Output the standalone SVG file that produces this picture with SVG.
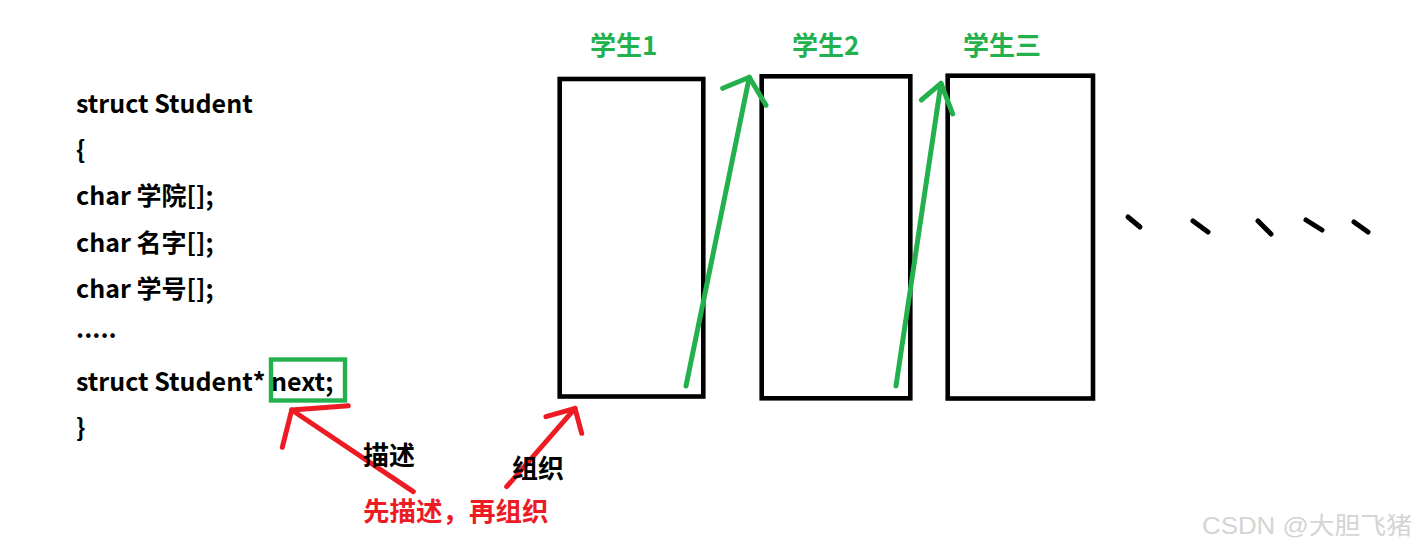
<svg xmlns="http://www.w3.org/2000/svg" width="1416" height="552" viewBox="0 0 1416 552">
<style>
.code{font-family:"Noto Sans CJK SC","Noto Sans",sans-serif;font-weight:bold;font-size:25px;fill:#000}
.lbl{font-family:"Noto Sans CJK SC",sans-serif;font-weight:bold;font-size:26px;fill:#22B14C}
.note{font-family:"Noto Sans CJK SC",sans-serif;font-weight:bold;font-size:26px;fill:#000}
.red{font-family:"Noto Sans CJK SC",sans-serif;font-weight:bold;font-size:26.5px;fill:#ED1C24}
.box{fill:none;stroke:#000;stroke-width:4.6}
.g{fill:none;stroke:#22B14C;stroke-width:5;stroke-linecap:round;stroke-linejoin:round}
.r{fill:none;stroke:#ED1C24;stroke-width:5;stroke-linecap:round;stroke-linejoin:round}
.dash{stroke:#000;stroke-width:5;stroke-linecap:round}
.wm{font-family:"Liberation Sans","Noto Sans CJK SC",sans-serif;font-size:24px;fill:#d4d4d4}
</style>
<rect width="1416" height="552" fill="#fff"/>
<g id="code">
<text class="code" x="76" y="113">struct Student</text>
<text class="code" x="76" y="159">{</text>
<text class="code" x="76" y="205">char 学院[];</text>
<text class="code" x="76" y="252">char 名字[];</text>
<text class="code" x="76" y="298">char 学号[];</text>
<text class="code" x="76" y="338">.....</text>
<text class="code" x="76" y="391">struct Student* next;</text>
<text class="code" x="76" y="437">}</text>
</g>
<g id="next-highlight">
<rect x="271" y="359.5" width="74" height="41" fill="none" stroke="#22B14C" stroke-width="4.4"/>
</g>
<g id="student1">
<rect class="box" x="559.7" y="79" width="143.6" height="317.5"/>
<text class="lbl" x="590" y="55">学生1</text>
</g>
<g id="student2">
<rect class="box" x="761.7" y="76.3" width="148.6" height="322"/>
<text class="lbl" x="792" y="55">学生2</text>
</g>
<g id="student3">
<rect class="box" x="947.7" y="75.7" width="145.3" height="322.8"/>
<text class="lbl" x="963" y="55">学生三</text>
</g>
<g id="ellipsis">
<line class="dash" x1="1128" y1="217" x2="1140" y2="227"/>
<line class="dash" x1="1193" y1="221" x2="1208" y2="232"/>
<line class="dash" x1="1258" y1="221" x2="1271" y2="234"/>
<line class="dash" x1="1306" y1="220" x2="1322" y2="230"/>
<line class="dash" x1="1354" y1="222" x2="1368" y2="232"/>
</g>
<g id="connectors">
<path class="g" d="M686 386 L749.3 77.3"/>
<path class="g" d="M722.7 88.3 L749.3 77.3 L766 105.3"/>
<path class="g" d="M896 386 L941 83.3"/>
<path class="g" d="M921.3 100 L941 83.3 L952.7 114"/>
<path class="r" d="M413.3 491.7 L291.7 410"/>
<path class="r" d="M348.3 405.7 L291.7 410 L282.3 447.3"/>
<path class="r" d="M506.7 486.7 L575 408.3"/>
<path class="r" d="M546 416.7 L575 408.3 L581.7 433.3"/>
</g>
<g id="notes">
<text class="note" x="363" y="465">描述</text>
<text class="note" x="512" y="478">组织</text>
<text class="red" x="363" y="521">先描述，再组织</text>
</g>
<g id="watermark">
<text class="wm" x="1202" y="534" textLength="210" lengthAdjust="spacingAndGlyphs">CSDN @大胆飞猪</text>
</g>
</svg>
